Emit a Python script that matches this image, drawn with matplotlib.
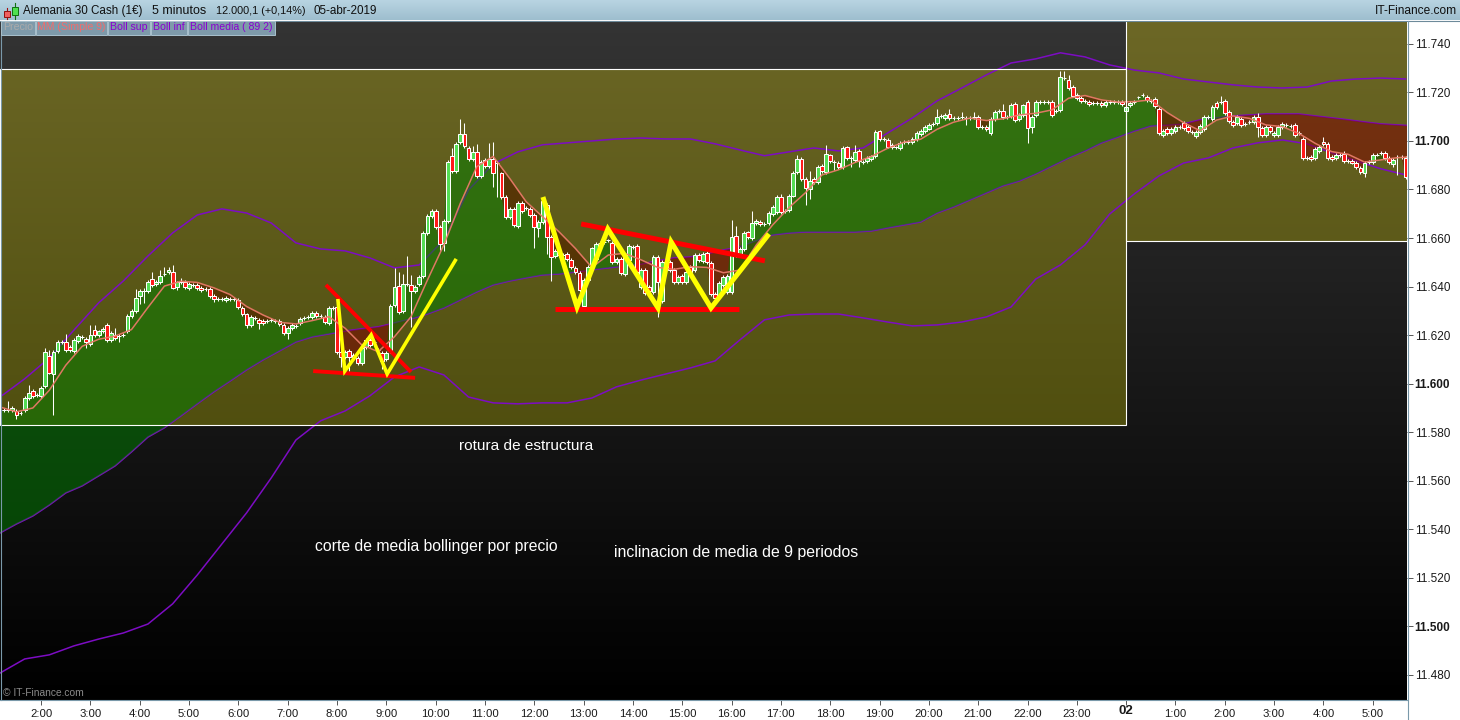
import numpy as np
import matplotlib
matplotlib.use("Agg")
import matplotlib.pyplot as plt
from matplotlib.patches import Rectangle

plt.rcParams['font.family'] = ['Liberation Sans', 'DejaVu Sans']

# --- candles, one entry per 5 minute bar ---
opens = [
    11589, 11589, 11589, 11589, 11588.7, 11588, 11589, 11594, 11597, 11595.5,
    11595, 11599, 11611.5, 11604, 11613.5, 11617, 11617, 11615, 11613.5, 11617.5,
    11619.3, 11618.6, 11616.5, 11622, 11620, 11621.5, 11624, 11618, 11620, 11619.5,
    11620, 11621.5, 11628, 11630, 11636, 11638, 11638, 11643, 11641, 11641.7,
    11645, 11646, 11646, 11640, 11642, 11642, 11639.5, 11640.5, 11640.5, 11639.6,
    11639, 11639, 11636, 11635, 11635, 11634.5, 11635, 11635, 11634.5, 11631,
    11628.5, 11624, 11627, 11626.4, 11626, 11626, 11626.4, 11626, 11626, 11624,
    11621, 11622.8, 11623.8, 11625, 11627, 11627.5, 11627.6, 11629, 11628, 11627.6,
    11624.9, 11631, 11631.5, 11613, 11611, 11613.6, 11612, 11610.5, 11608.4, 11615,
    11618, 11617, 11614, 11612.5, 11610, 11613.6, 11632.3, 11640.4, 11629.8, 11641,
    11640.8, 11638, 11641, 11644.5, 11662, 11669, 11671, 11664.7, 11658, 11667,
    11693.6, 11687.5, 11699.6, 11703, 11697, 11692.4, 11695.6, 11685.6, 11692, 11689.5,
    11692.7, 11690.8, 11686.6, 11677, 11668.5, 11671.8, 11665, 11674.3, 11672.5, 11672,
    11669.6, 11664.2, 11666.7, 11673.6, 11660.5, 11652.4, 11653, 11653, 11653.3, 11651,
    11647.5, 11645.7, 11632, 11642.7, 11648, 11651.5, 11657.8, 11658.5, 11659, 11658,
    11650.2, 11651.2, 11645, 11650.9, 11656.4, 11656.8, 11640, 11646.8, 11639.7, 11637.9,
    11652.3, 11634, 11650, 11650, 11646.8, 11641.7, 11644.3, 11641.7, 11648, 11646.8,
    11653, 11650.6, 11653.7, 11649.8, 11636.9, 11635.8, 11640.6, 11637.9, 11637.9, 11661,
    11653, 11655.3, 11662.3, 11659.9, 11666, 11666.7, 11665.9, 11666, 11669.9, 11670.8,
    11677, 11671, 11671.6, 11677.5, 11687, 11692.7, 11684.2, 11680.2, 11684.2, 11682.9,
    11689.6, 11687.1, 11694, 11691.2, 11691.1, 11689.2, 11697.3, 11692.9, 11692.2, 11695.7,
    11691.5, 11691.8, 11692.5, 11693.6, 11703.9, 11700.7, 11700.3, 11698.2, 11697.3, 11697,
    11699.7, 11699.7, 11699.6, 11700.7, 11702.8, 11704.1, 11705.1, 11706.9, 11707.3, 11710.3,
    11709.4, 11710.9, 11709.4, 11709.4, 11710, 11709.4, 11709.6, 11709.8, 11709.8, 11705.9,
    11705.6, 11703.2, 11709.2, 11712.5, 11712.2, 11710, 11710.3, 11715.1, 11708.9, 11710.7,
    11716.2, 11705.9, 11710.7, 11716.2, 11716.2, 11716.2, 11716, 11712.4, 11712.8, 11726,
    11725.2, 11722.4, 11719, 11717.5, 11716.6, 11716.2, 11715.5, 11715.8, 11715.8, 11714.7,
    11716.2, 11716.2, 11716.2, 11716.2, 11712.5, 11714.7, 11716.2, 11717.9, 11719, 11718,
    11716.6, 11717.2, 11713, 11702.3, 11705, 11703.4, 11704.2, 11705.9, 11707.3, 11705.9,
    11703.8, 11701.9, 11703.7, 11705, 11710, 11708.9, 11715.5, 11716, 11716.3, 11711.9,
    11707.8, 11707.3, 11708.9, 11706.9, 11707.8, 11707.8, 11710, 11705.2, 11702.5, 11705.9,
    11702.3, 11702.6, 11705.9, 11706.6, 11706.2, 11706.4, 11703.1, 11700.7, 11692.8, 11693.3,
    11692.8, 11696, 11699.4, 11698.6, 11693.5, 11692.8, 11694.2, 11694.6, 11691.9, 11691.9,
    11690.8, 11688.7, 11686.7, 11691.5, 11691.2, 11694.4, 11694.9, 11694.9, 11692.8, 11690.4,
    11693.5, 11693.5, 11693.1,
]
closes = [
    11589, 11589, 11589, 11590, 11587, 11588, 11594, 11596, 11595, 11595.5,
    11598.4, 11613, 11604.6, 11613, 11617, 11617, 11614, 11614, 11618, 11619.5,
    11619.3, 11617, 11620, 11620, 11621.5, 11622.5, 11618, 11621, 11619, 11619.5,
    11620, 11628, 11630, 11635.5, 11638, 11638, 11642, 11640.5, 11642, 11644.5,
    11645, 11647, 11639.6, 11641.7, 11642, 11640, 11641, 11640.5, 11639.5, 11638.4,
    11639, 11636, 11634.7, 11635, 11635, 11635.4, 11635, 11635, 11631.5, 11628.7,
    11624, 11627.3, 11627, 11625, 11625, 11626, 11626.4, 11626, 11624.6, 11620.8,
    11622.8, 11624, 11623.8, 11626.5, 11627, 11627.5, 11629, 11628, 11628, 11625.4,
    11631, 11631, 11613, 11610.9, 11613, 11610.9, 11610.9, 11608.4, 11614.6, 11618,
    11616, 11617, 11614, 11609.5, 11612.5, 11632, 11639.7, 11629.4, 11641, 11641,
    11638, 11640, 11644, 11662, 11669, 11671, 11664.6, 11657.4, 11667, 11691.5,
    11687.7, 11698.6, 11703, 11698, 11692.5, 11695.6, 11685.6, 11691.5, 11689.7, 11692.4,
    11686.7, 11690.8, 11677, 11668.5, 11672, 11665.4, 11674.5, 11671, 11672.5, 11669.3,
    11664.4, 11666.5, 11675.4, 11660.5, 11652.3, 11654.5, 11653, 11653, 11651.2, 11648,
    11646, 11638.6, 11642.7, 11648, 11655.7, 11657.5, 11657.8, 11658.5, 11659, 11650.2,
    11651.2, 11645.4, 11653, 11656.7, 11656.4, 11646, 11646.8, 11637.2, 11638, 11652.3,
    11642, 11650, 11650, 11646.8, 11641.7, 11643.8, 11642, 11646, 11646, 11653,
    11651, 11653.4, 11650.2, 11636.9, 11635.4, 11641.3, 11643.8, 11644.3, 11660.5, 11653,
    11655.3, 11662.2, 11660.3, 11666, 11667.2, 11665.6, 11665.9, 11670.2, 11672.6, 11676.8,
    11670.6, 11671.3, 11677.4, 11686.7, 11692.7, 11684.4, 11680.5, 11683.4, 11683, 11689.2,
    11687.5, 11694.5, 11691.8, 11691.2, 11689.2, 11697, 11692.9, 11692.9, 11695.3, 11691.6,
    11691.5, 11693.1, 11693.6, 11703.6, 11700.7, 11700.7, 11697.7, 11697.3, 11697.3, 11699,
    11699.7, 11699.7, 11700.7, 11703.2, 11704.1, 11705.7, 11706.5, 11706.9, 11710, 11710.3,
    11710.5, 11709.4, 11709.4, 11709.4, 11710, 11709.4, 11709.6, 11709.8, 11705.9, 11705.9,
    11705, 11709, 11711.8, 11712.5, 11710, 11710, 11714.9, 11708.7, 11710.7, 11714.6,
    11705.2, 11709.8, 11716, 11716.2, 11716.2, 11716.2, 11710.7, 11712.4, 11726.3, 11726,
    11721.7, 11718.7, 11717.6, 11716.5, 11716.6, 11715.2, 11715.5, 11715.8, 11714.9, 11716,
    11716.2, 11716.2, 11716.2, 11715.2, 11713.9, 11715.8, 11716.2, 11717.9, 11719, 11717,
    11716.6, 11714.4, 11703.1, 11704, 11703.4, 11705, 11705.9, 11705.9, 11705.3, 11704,
    11703.8, 11703.8, 11706.2, 11710, 11710, 11714.1, 11714.1, 11716, 11711.4, 11708.1,
    11706.7, 11710, 11706.4, 11706.9, 11707.8, 11710, 11705.6, 11702.3, 11705.6, 11704.2,
    11703.1, 11705.6, 11707, 11706.6, 11706.2, 11702.3, 11703.1, 11692.8, 11692.8, 11692.4,
    11696.5, 11697.6, 11698.6, 11693.1, 11692.4, 11694.2, 11694.2, 11691.9, 11691.9, 11691.1,
    11689.1, 11687, 11690.8, 11691.5, 11694.1, 11694.4, 11694.9, 11693.1, 11691.5, 11692,
    11693.5, 11693.5, 11685,
]

# wicks that stick out clearly, the rest are short
wick_up_bars = [2, 7, 11, 12, 14, 15, 16, 22, 23, 28, 33, 35, 37, 39, 40, 41, 42, 44,
                82, 96, 97, 98, 99, 100, 110, 112, 113, 115, 116, 119, 120, 178, 179, 183,
                190, 194, 197, 201, 206, 208, 228, 231, 234, 237, 244, 252, 254, 258, 259,
                260, 297, 306, 322, 327]
wick_up_vals = [11593, 11599.4, 11614.5, 11614, 11618, 11618, 11620.6, 11624, 11624, 11623,
                11639, 11639.5, 11646, 11647, 11648, 11648, 11649, 11643.5,
                11635, 11647.5, 11646, 11645, 11652.4, 11644.8, 11697, 11709, 11707.3, 11698,
                11698.6, 11699, 11699.7, 11667.5, 11665, 11671.2,
                11678, 11694.3, 11687.7, 11698.4, 11698, 11698.4, 11713, 11713, 11712, 11712,
                11715.3, 11717, 11717, 11729, 11729, 11727.2, 11718.5, 11711.4, 11701.6, 11696]
wick_down_bars = [4, 13, 21, 26, 29, 34, 35, 43, 52, 60, 63, 70, 83, 85, 93, 100, 107, 108,
                  120, 121, 130, 131, 133, 134, 160, 196, 197, 203, 207, 209, 235, 247, 250, 251,
                  306, 332, 339, 340]
wick_down_vals = [11585.6, 11587, 11614.5, 11617, 11617, 11633, 11633.3, 11638.5, 11633.7,
                  11622.8, 11622.5, 11618.6, 11607, 11605.4, 11606, 11623.5, 11655, 11654.5,
                  11681, 11677, 11655.7, 11660.5, 11653.6, 11642.4, 11627.6, 11673.4, 11676, 11688,
                  11689.4, 11689.4, 11706.6, 11707.6, 11699, 11703.2, 11701.5, 11685.3, 11689.4, 11686]

# --- indicators ---
# MM (Simple 9) and Boll media, one value every 4 bars
line_step = 4
mm9 = [
    11590.4, 11588.4, 11590, 11597.3, 11607.6, 11615.4, 11618.3, 11619.6, 11622.3, 11631.4,
    11640.2, 11642.2, 11641.7, 11639.5, 11636.7, 11631.8, 11628.3, 11625.3, 11624.6, 11626,
    11627.6, 11622.8, 11616, 11613.2, 11619.4, 11627.6, 11642.7, 11657.2, 11674.3, 11689.4,
    11693.6, 11684.6, 11675, 11668.8, 11662.6, 11655.7, 11647.9, 11653, 11653.7, 11651,
    11647.9, 11647.1, 11648.2, 11647.9, 11645.7, 11646.8, 11657.1, 11665.4, 11672.6, 11678.7,
    11686, 11688.1, 11691.1, 11693.6, 11697, 11699.5, 11700.7, 11704.8, 11707.7, 11709.4,
    11708.4, 11709.1, 11710.7, 11711.4, 11712.8, 11717.6, 11718.7, 11716.9, 11716, 11716.2,
    11716.9, 11711.7, 11707.5, 11704.2, 11708.6, 11710.3, 11709.3, 11706.6, 11705.9, 11703.1,
    11699, 11695.6, 11694.5, 11691.3, 11692.2, 11693.1, 11693.5,
]
boll_media = [
    11538.5, 11542.2, 11545.5, 11550, 11555, 11557.9, 11562, 11566.1, 11571.9, 11578,
    11581.8, 11586.7, 11591.7, 11596.6, 11601.1, 11605.7, 11609.8, 11613.5, 11617.2, 11619.3,
    11620.5, 11621.7, 11622.6, 11623.4, 11625, 11626.7, 11628.7, 11631.2, 11634.5, 11637.8,
    11640.7, 11642.3, 11643.6, 11644.8, 11645.2, 11646, 11646.9, 11647.7, 11648.5, 11649.3,
    11650.6, 11651.8, 11652.2, 11653.4, 11655.1, 11656.3, 11658.8, 11661.3, 11662.1, 11662.5,
    11662.5, 11662.5, 11662.5, 11662.9, 11664.2, 11665.4, 11666.6, 11670.3, 11672.8, 11675.7,
    11678.6, 11681.5, 11683.5, 11686.4, 11689.7, 11693, 11695.9, 11699.2, 11701.6, 11704.1,
    11706.2, 11706.6, 11707, 11708.7, 11709.5, 11710.3, 11710.7, 11711.1, 11711.1, 11711.1,
    11710.3, 11709.5, 11708.7, 11707.8, 11707, 11706.6, 11706.2,
]
# Bollinger bands, one value every 6 bars
band_step = 6
boll_sup = [
    11594.5, 11602, 11610.6, 11622.1, 11633.3, 11642.3, 11652.6, 11662.1, 11669.5, 11672,
    11670.3, 11666.2, 11658, 11655.5, 11654.7, 11651.8, 11647.7, 11648.9, 11659.2, 11679.8,
    11690.5, 11695.5, 11698.4, 11699.2, 11700, 11700.8, 11701.2, 11700.8, 11700.8, 11698.8,
    11696.3, 11693.9, 11695.5, 11697.1, 11695.9, 11697.1, 11703.3, 11709.5, 11716.5, 11721.8,
    11727.2, 11732.1, 11733.8, 11736.3, 11734.6, 11731.3, 11729.2, 11728, 11725.5, 11724.3,
    11723.1, 11722.2, 11721.8, 11722.2, 11724.7, 11725.5, 11725.9, 11725.5,
]
boll_inf = [
    11480.8, 11486.6, 11488.3, 11492, 11494.8, 11497.3, 11501, 11509.3, 11521.2, 11534,
    11546.8, 11561.2, 11576.8, 11584.7, 11588.8, 11595, 11602.8, 11606.9, 11603.6, 11594.5,
    11592.1, 11591.7, 11592.1, 11592.1, 11594.1, 11598.7, 11601.5, 11604, 11606.5, 11609.4,
    11618, 11626.3, 11628.3, 11628.7, 11628.7, 11627.1, 11625.4, 11623.8, 11624.2, 11625.4,
    11627.5, 11631.6, 11643.1, 11648.9, 11657.2, 11669.9, 11678.2, 11685.6, 11690.9, 11693,
    11697.1, 11699.2, 11700.4, 11698.8, 11695.1, 11691.8, 11688.5, 11686,
]

# --- hand drawn lines on the chart: (bar, price) ---
red_lines = [
    ([79.3, 100], [11640.7, 11604.8]),
    ([76.2, 101], [11605.2, 11602.4]),
    ([141.4, 186.1], [11665.8, 11650.6]),
    ([135, 179.8], [11630.8, 11630.8]),
]
small_zigzag_bars = [82.2, 83.9, 90.3, 94.2, 111]
small_zigzag_prices = [11634.9, 11605.2, 11620.1, 11604, 11651.4]
big_zigzag_bars = [132.1, 140.4, 147.9, 160.1, 163.3, 173, 187.1]
big_zigzag_prices = [11676.9, 11631.6, 11663.7, 11631.2, 11658.4, 11631.2, 11661.7]

# --- axis labels ---
hour_labels = [f"{h}:00" for h in range(2, 24)] + ["02"] + [f"{h}:00" for h in range(1, 6)]
price_ticks = list(range(11480, 11741, 20))
bold_prices = [11500, 11600, 11700]

# white rectangles: bars and prices of the zones
zone1_right_bar = 274
zone1_top, zone1_bottom = 11729.7, 11583
zone2_bottom = 11658.8

WIDTH, HEIGHT = 1460, 720
x_right = 1407 / 4.11
y_low, y_high = 11469.7, 11749.4

fig = plt.figure(figsize=(WIDTH / 100, HEIGHT / 100), dpi=100, facecolor='white')
ax = fig.add_axes([0, 20 / HEIGHT, 1407 / WIDTH, 679 / HEIGHT])

# --- 1. Background gradients ---
extent = [0, x_right, y_low, y_high]
grey = np.linspace(52, 0, 256).reshape(256, 1)
ax.imshow(np.dstack([grey, grey, grey]).astype(np.uint8), extent=extent, aspect='auto', zorder=0)

olive_top = np.array([108, 103, 38])
olive_bottom = np.array([62, 63, 0])
olive = np.linspace(olive_top, olive_bottom, 256).reshape(256, 1, 3).astype(np.uint8)
zone1 = Rectangle((0, zone1_bottom), zone1_right_bar, zone1_top - zone1_bottom,
                  transform=ax.transData, facecolor='none')
zone2 = Rectangle((zone1_right_bar, zone2_bottom), x_right - zone1_right_bar, y_high - zone2_bottom,
                  transform=ax.transData, facecolor='none')
for zone in (zone1, zone2):
    im = ax.imshow(olive, extent=extent, aspect='auto', zorder=1)
    im.set_clip_path(zone)

# --- 2. Bollinger lines, media goes under the cloud ---
band_x = np.arange(len(boll_sup)) * band_step
line_x = np.arange(len(mm9)) * line_step
purple = '#7d0cc4'
ax.plot(band_x, boll_sup, color=purple, lw=1.1, zorder=2)
ax.plot(band_x, boll_inf, color=purple, lw=1.1, zorder=2)
ax.plot(line_x, boll_media, color=purple, lw=1.1, zorder=2)

# --- 3. The two fills: MM against media, close against MM ---
mm9 = np.array(mm9)
boll_media = np.array(boll_media)
ax.fill_between(line_x, mm9, boll_media, where=mm9 >= boll_media, interpolate=True,
                color='#008000', alpha=0.5, lw=0, zorder=3)
ax.fill_between(line_x, mm9, boll_media, where=mm9 < boll_media, interpolate=True,
                color='#800000', alpha=0.5, lw=0, zorder=3)

bars = np.arange(len(closes))
opens = np.array(opens)
closes = np.array(closes)
mm_at_bars = np.interp(bars, line_x, mm9)
ax.fill_between(bars, closes, mm_at_bars, where=closes >= mm_at_bars, interpolate=True,
                color='#008000', alpha=0.5, lw=0, zorder=3)
ax.fill_between(bars, closes, mm_at_bars, where=closes < mm_at_bars, interpolate=True,
                color='#800000', alpha=0.5, lw=0, zorder=3)

# --- 4. Candles ---
highs = np.maximum(opens, closes) + 0.8
lows = np.minimum(opens, closes) - 0.8
highs[wick_up_bars] = wick_up_vals
lows[wick_down_bars] = wick_down_vals
ax.vlines(bars, lows, highs, color='white', lw=0.75, zorder=4)
up = closes >= opens
ax.bar(bars, closes - opens, bottom=opens, width=0.92, color=np.where(up, '#55dd55', '#ff1a1a'),
       edgecolor='white', linewidth=0.72, zorder=5)

# --- 5. MM line and the drawn lines ---
ax.plot(line_x, mm9, color='#e87a68', lw=1.1, alpha=0.95, zorder=6)

ax.add_patch(Rectangle((0, zone1_bottom), zone1_right_bar, zone1_top - zone1_bottom,
                       facecolor='none', edgecolor='white', lw=0.8, zorder=7))
ax.add_patch(Rectangle((zone1_right_bar, zone2_bottom), x_right, y_high,
                       facecolor='none', edgecolor='white', lw=0.8, zorder=7))

for i, (line_bars, line_prices) in enumerate(red_lines):
    ax.plot(line_bars, line_prices, color='#ff0000', lw=2.8 if i < 2 else 3.6, zorder=8,
            solid_capstyle='butt')
ax.plot(small_zigzag_bars, small_zigzag_prices, color='#ffff00', lw=2.6, zorder=9,
        solid_joinstyle='miter', solid_capstyle='butt')
ax.plot(big_zigzag_bars, big_zigzag_prices, color='#ffff00', lw=3.6, zorder=9,
        solid_joinstyle='miter', solid_capstyle='butt')

ax.set_xlim(0, x_right)
ax.set_ylim(y_low, y_high)

# --- 6. Axes ---
ax.set_xticks(10 + 12 * np.arange(len(hour_labels)))
# the bold day label sits lower in its tick box, so it is written by hand further down
ax.set_xticklabels(["" if t == "02" else t for t in hour_labels], fontsize=8.2, color='#1a1a1a')
ax.tick_params(axis='x', length=3.5, width=0.7, color='#555555', pad=3)
ax.yaxis.tick_right()
ax.set_yticks(price_ticks)
ax.set_yticklabels([f"{p // 1000}.{p % 1000:03d}" for p in price_ticks], fontsize=8.5, color='#1a1a1a')
ax.tick_params(axis='y', length=4, width=0.7, color='#555555', pad=1.5)
for tick_label, p in zip(ax.get_yticklabels(), price_ticks):
    if p in bold_prices:
        tick_label.set_fontweight('bold')
for spine in ax.spines.values():
    spine.set_visible(False)

# --- 7. Notes written on the chart ---
ax.text(111.7, 11574.3, "rotura de estructura", color='white', fontsize=11.1, va='center')
ax.text(76.6, 11533, "corte de media bollinger por precio", color='white', fontsize=11.3, va='center')
ax.text(149.4, 11530.5, "inclinacion de media de 9 periodos", color='white', fontsize=11.4, va='center')

# --- 8. Window chrome, drawn in pixels over everything ---
chrome = fig.add_axes([0, 0, 1, 1], facecolor='none')
chrome.set_xlim(0, WIDTH)
chrome.set_ylim(HEIGHT, 0)
chrome.axis('off')

header = np.linspace([186, 214, 227], [158, 190, 206], 64).reshape(64, 1, 3).astype(np.uint8)
chrome.imshow(header, extent=[0, WIDTH, 20.5, 0], aspect='auto', zorder=1)
chrome.set_xlim(0, WIDTH)
chrome.set_ylim(HEIGHT, 0)
chrome.plot([0, WIDTH], [20.5, 20.5], color='#6d8a9a', lw=0.8, zorder=2)
chrome.plot([0.5, 0.5], [21, 700], color='#7a99aa', lw=0.8, zorder=2)
chrome.plot([0, 1407], [700, 700], color='#7a99aa', lw=0.8, zorder=2)
chrome.plot([1407.5, 1407.5], [21, 720], color='#7a99aa', lw=0.8, zorder=2)

chrome.text(1126, 711.5, "02", fontsize=9.5, fontweight='bold', color='#1a1a1a',
            va='center', ha='center', zorder=5)

# little candle icon
chrome.plot([6.5, 6.5], [8, 19], color='#a01010', lw=0.8, zorder=3)
chrome.add_patch(Rectangle((3.5, 10.5), 6, 6, facecolor='#f06060', edgecolor='#901010', lw=0.7, zorder=4))
chrome.plot([14.5, 14.5], [3, 19], color='#107010', lw=0.8, zorder=3)
chrome.add_patch(Rectangle((11.5, 7), 6, 8, facecolor='#50e050', edgecolor='#107010', lw=0.7, zorder=4))

title_parts = [(23, "Alemania 30 Cash (1€)", 8.4), (152, "5 minutos", 9.0),
               (216, "12.000,1 (+0,14%)", 7.8), (314, "05-abr-2019", 8.4)]
for x, text, size in title_parts:
    chrome.text(x, 11, text, fontsize=size, color='#101010', va='center', zorder=5)
chrome.text(1457, 11, "IT-Finance.com", fontsize=8.6, color='#101010', va='center', ha='right', zorder=5)

legend_parts = [(1, 35, "Precio", '#ababab'), (36, 107, "MM (Simple 9)", '#f26c6c'),
                (108, 150, "Boll sup", '#8a00d0'), (151, 187, "Boll inf", '#8a00d0'),
                (188, 275, "Boll media ( 89 2)", '#8a00d0')]
for left, right, text, colour in legend_parts:
    chrome.add_patch(Rectangle((left, 21), right - left, 13.5, facecolor='#7e9aaa',
                               edgecolor='#a9c1cd', lw=0.7, zorder=4))
    chrome.text((left + right) / 2, 27.5, text, fontsize=7.6, color=colour,
                va='center', ha='center', zorder=5)

chrome.text(3, 693.5, "© IT-Finance.com", fontsize=7.4, color='#8a8a8a', va='center', zorder=5)

fig.savefig("out.png", dpi=100, facecolor='white')
